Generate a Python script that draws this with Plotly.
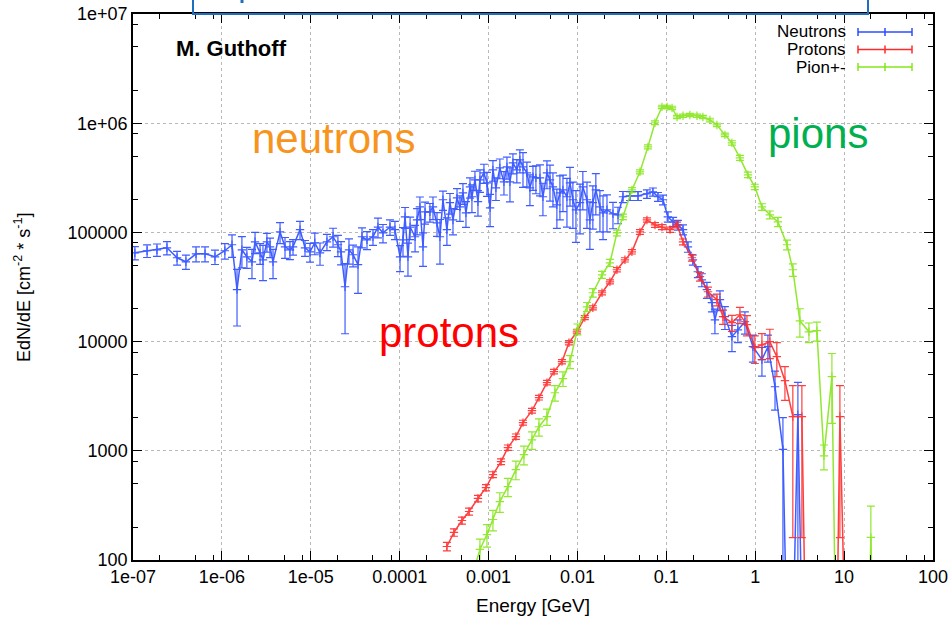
import plotly.graph_objects as go

# ---------------- data ----------------
neutron_energy = [
    1.05e-7, 1.44e-7, 1.86e-7, 2.41e-7, 3.13e-7, 3.94e-7, 5.12e-7, 6.46e-7, 8.36e-7, 1.08e-6,
    1.30e-6, 1.48e-6, 1.68e-6, 1.91e-6, 2.18e-6, 2.36e-6, 2.69e-6, 2.90e-6, 3.21e-6, 3.48e-6,
    3.76e-6, 4.51e-6, 5.13e-6, 5.83e-6, 6.31e-6, 7.57e-6, 8.61e-6, 9.79e-6, 1.11e-5, 1.27e-5,
    1.52e-5, 1.78e-5, 2.02e-5, 2.19e-5, 2.43e-5, 2.69e-5, 2.99e-5, 3.40e-5, 3.77e-5, 4.29e-5,
    5.01e-5, 5.70e-5, 6.49e-5, 7.78e-5, 8.85e-5, 1.01e-4, 1.09e-4, 1.15e-4, 1.24e-4, 1.31e-4,
    1.49e-4, 1.57e-4, 1.69e-4, 1.83e-4, 1.93e-4, 2.19e-4, 2.37e-4, 2.63e-4, 2.84e-4, 3.07e-4,
    3.40e-4, 3.68e-4, 3.98e-4, 4.42e-4, 4.76e-4, 5.15e-4, 5.57e-4, 6.18e-4, 6.50e-4, 7.03e-4,
    7.60e-4, 8.00e-4, 8.87e-4, 9.59e-4, 1.04e-3, 1.12e-3, 1.21e-3, 1.34e-3, 1.49e-3, 1.61e-3,
    1.74e-3, 1.88e-3, 2.08e-3, 2.25e-3, 2.44e-3, 2.70e-3, 2.92e-3, 3.16e-3, 3.41e-3, 3.79e-3,
    4.09e-3, 4.54e-3, 4.91e-3, 5.30e-3, 5.87e-3, 6.35e-3, 6.87e-3, 7.62e-3, 8.24e-3, 8.89e-3,
    9.62e-3, 1.07e-2, 1.15e-2, 1.28e-2, 1.38e-2, 1.49e-2, 1.61e-2, 1.79e-2, 1.94e-2, 2.15e-2,
    2.51e-2, 2.86e-2, 3.25e-2, 3.90e-2, 4.80e-2, 6.05e-2, 7.06e-2, 8.05e-2, 9.17e-2, 1.04e-1,
    1.19e-1, 1.35e-1, 1.54e-1, 1.75e-1, 1.99e-1, 2.26e-1, 2.51e-1, 2.86e-1, 3.26e-1, 3.52e-1,
    4.01e-1, 4.56e-1, 5.47e-1, 6.38e-1, 7.66e-1, 9.42e-1, 1.19, 1.39, 1.67, 2.05,
    2.45, 3.02, 3.62,
]
neutron_flux = [
    6.50e4, 6.79e4, 6.93e4, 7.23e4, 5.86e4, 5.38e4, 6.37e4, 6.37e4, 5.98e4, 6.79e4,
    7.71e4, 2.99e4, 6.93e4, 5.98e4, 5.38e4, 8.20e4, 6.50e4, 5.61e4, 8.20e4, 7.38e4,
    5.38e4, 1.01e5, 7.38e4, 6.93e4, 7.38e4, 1.06e5, 7.23e4, 6.64e4, 8.04e4, 6.50e4,
    8.20e4, 9.12e4, 7.71e4, 6.64e4, 3.18e4, 6.93e4, 6.24e4, 5.06e4, 9.12e4, 8.55e4,
    9.12e4, 1.12e5, 9.91e4, 1.12e5, 1.06e5, 5.98e4, 8.55e4, 1.39e5, 5.98e4, 1.12e5,
    9.12e4, 1.30e5, 1.71e5, 7.38e4, 1.54e5, 1.54e5, 1.71e5, 1.22e5, 9.12e4, 1.99e5,
    1.06e5, 1.87e5, 1.30e5, 2.07e5, 1.71e5, 2.30e5, 1.51e5, 2.61e5, 2.12e5, 3.03e5,
    1.91e5, 3.03e5, 3.51e5, 2.84e5, 1.68e5, 3.74e5, 2.56e5, 3.90e5, 2.90e5, 3.98e5,
    2.90e5, 4.34e5, 3.74e5, 4.61e5, 3.98e5, 3.51e5, 2.56e5, 3.23e5, 3.16e5, 3.16e5,
    2.12e5, 3.51e5, 3.03e5, 2.61e5, 1.79e5, 2.30e5, 2.45e5, 2.12e5, 2.84e5, 1.99e5,
    1.61e5, 1.87e5, 2.61e5, 1.99e5, 1.30e5, 1.87e5, 2.45e5, 1.71e5, 1.51e5, 1.61e5,
    1.48e5, 1.45e5, 2.12e5, 2.16e5, 2.16e5, 2.25e5, 2.35e5, 2.12e5, 1.99e5, 1.39e5,
    1.25e5, 1.17e5, 1.06e5, 7.38e4, 5.61e4, 4.36e4, 3.68e4, 2.99e4, 2.27e4, 1.58e4,
    2.42e4, 1.69e4, 1.11e4, 1.28e4, 1.52e4, 8.98e3, 6.83e3, 8.98e3, 3.86e3, 1.03e3,
    1.0, 2.14e3, 1.0,
]
neutron_err = [
    9.0e3, 9.0e3, 9.0e3, 1.0e4, 8.5e3, 8.0e3, 1.0e4, 1.0e4, 9.0e3, 1.1e4,
    1.8e4, 1.6e4, 2.2e4, 1.3e4, 1.6e4, 1.8e4, 1.4e4, 2.0e4, 1.6e4, 1.5e4,
    1.6e4, 2.2e4, 1.6e4, 1.3e4, 1.2e4, 2.0e4, 1.2e4, 1.3e4, 1.8e4, 1.5e4,
    1.4e4, 1.8e4, 1.7e4, 1.6e4, 2.0e4, 1.8e4, 1.4e4, 2.3e4, 1.9e4, 1.6e4,
    1.5e4, 2.3e4, 1.9e4, 1.8e4, 2.0e4, 1.6e4, 2.5e4, 3.0e4, 2.0e4, 2.6e4,
    2.5e4, 3.5e4, 4.0e4, 2.5e4, 3.5e4, 3.0e4, 4.0e4, 3.0e4, 4.0e4, 4.0e4,
    3.0e4, 4.0e4, 3.5e4, 4.5e4, 4.5e4, 5.0e4, 4.0e4, 5.5e4, 6.0e4, 6.0e4,
    5.0e4, 7.0e4, 7.0e4, 7.0e4, 5.5e4, 8.0e4, 6.0e4, 8.0e4, 7.0e4, 9.0e4,
    1.0e5, 9.0e4, 9.0e4, 1.1e5, 1.4e5, 9.0e4, 8.0e4, 8.0e4, 9.0e4, 1.0e5,
    7.0e4, 1.0e5, 1.1e5, 9.0e4, 7.0e4, 1.0e5, 9.0e4, 1.0e5, 1.1e5, 9.0e4,
    8.0e4, 9.0e4, 1.0e5, 9.0e4, 6.0e4, 8.0e4, 1.0e5, 7.0e4, 6.5e4, 6.0e4,
    4.0e4, 2.5e4, 2.5e4, 2.0e4, 2.0e4, 2.0e4, 2.0e4, 2.0e4, 2.0e4, 1.5e4,
    1.2e4, 1.2e4, 1.1e4, 8.0e3, 6.0e3, 5.0e3, 5.0e3, 5.0e3, 4.0e3, 4.0e3,
    5.0e3, 4.0e3, 3.0e3, 3.0e3, 3.5e3, 2.5e3, 2.0e3, 2.5e3, 1.5e3, 0.98e3,
    0.0, 2.1e3, 0.0,
]

proton_energy = [
    3.40e-4, 4.08e-4, 5.02e-4, 6.03e-4, 7.60e-4, 9.35e-4, 1.12e-3, 1.38e-3, 1.65e-3, 2.03e-3,
    2.44e-3, 3.08e-3, 3.69e-3, 4.54e-3, 5.45e-3, 6.70e-3, 8.02e-3, 9.86e-3, 1.21e-2, 1.49e-2,
    1.89e-2, 2.32e-2, 2.78e-2, 3.42e-2, 4.10e-2, 5.05e-2, 6.05e-2, 7.45e-2, 8.93e-2, 1.10e-1,
    1.32e-1, 1.54e-1, 1.94e-1, 2.39e-1, 2.94e-1, 3.71e-1, 4.34e-1, 5.47e-1, 6.73e-1, 8.07e-1,
    0.99, 1.19, 1.46, 1.75, 2.16, 2.65, 3.35, 3.92, 7.89, 8.97,
    11.2,
]
proton_flux = [
    133, 179, 230, 278, 366, 460, 605, 796, 1070, 1350,
    1810, 2330, 3070, 4210, 5310, 6550, 9770, 1.23e4, 1.66e4, 2.04e4,
    2.80e4, 3.53e4, 4.55e4, 5.61e4, 6.64e4, 1.01e5, 1.30e5, 1.17e5, 1.12e5, 1.06e5,
    1.17e5, 8.20e4, 5.86e4, 3.93e4, 2.86e4, 2.42e4, 1.69e4, 1.49e4, 1.76e4, 1.43e4,
    8.80e3, 9.35e3, 9.98e3, 7.28e3, 4.39e3, 2.06e3, 2.06e3, 1.0, 1.0, 2.06e3,
    1.0,
]
proton_err = [
    12, 14, 17, 20, 25, 30, 38, 48, 60, 75,
    95, 120, 150, 200, 250, 300, 420, 500, 700, 900,
    1200, 1500, 2000, 2500, 3000, 5000, 6000, 6000, 6000, 6000,
    7000, 5000, 4000, 3500, 3000, 3000, 2500, 2500, 3000, 3000,
    2500, 2500, 3000, 2500, 1500, 1.9e3, 1.9e3, 0, 0, 1.9e3,
    0,
]

pion_energy = [
    6.50e-4, 8.00e-4, 9.59e-4, 1.12e-3, 1.34e-3, 1.65e-3, 2.03e-3, 2.50e-3, 3.08e-3, 3.69e-3,
    4.54e-3, 5.58e-3, 6.87e-3, 8.24e-3, 1.00e-2, 1.28e-2, 1.49e-2, 1.89e-2, 2.32e-2, 2.78e-2,
    3.25e-2, 4.10e-2, 5.05e-2, 6.21e-2, 7.45e-2, 8.93e-2, 1.02e-1, 1.16e-1, 1.32e-1, 1.54e-1,
    1.84e-1, 2.21e-1, 2.58e-1, 3.09e-1, 3.71e-1, 4.56e-1, 5.47e-1, 6.73e-1, 8.28e-1, 0.99,
    1.19, 1.46, 1.80, 2.28, 2.65, 3.18, 4.02, 4.94, 5.93, 7.29,
    8.51, 17.6, 20.0, 23.4,
]
pion_flux = [
    70, 125, 171, 235, 343, 470, 673, 923, 1260, 1660,
    2060, 3400, 4580, 6550, 1.30e4, 2.08e4, 2.80e4, 4.09e4, 5.27e4, 9.91e4,
    1.39e5, 2.45e5, 3.59e5, 6.07e5, 1.01e6, 1.41e6, 1.41e6, 1.38e6, 1.14e6, 1.17e6,
    1.19e6, 1.17e6, 1.14e6, 1.07e6, 9.64e5, 7.82e5, 6.61e5, 4.82e5, 3.37e5, 2.61e5,
    1.71e5, 1.45e5, 1.25e5, 7.71e4, 4.55e4, 1.55e4, 1.23e4, 1.26e4, 900, 4.78e3,
    1.0, 1.0, 161, 1.0,
]
pion_err = [
    15, 30, 40, 50, 70, 90, 130, 180, 230, 300,
    350, 550, 700, 900, 1500, 2000, 2500, 3000, 4000, 6000,
    8000, 1.2e4, 1.5e4, 2.5e4, 4e4, 5e4, 5e4, 5e4, 4e4, 4e4,
    4e4, 4e4, 4e4, 4e4, 3.5e4, 3e4, 3e4, 2.5e4, 2e4, 1.5e4,
    1.2e4, 1.2e4, 1.2e4, 8e3, 6e3, 4.5e3, 2.5e3, 2.5e3, 230, 3.0e3,
    0, 0, 150, 0,
]

series = [
    ("Neutrons", neutron_energy, neutron_flux, neutron_err, "#2b4cff"),
    ("Protons", proton_energy, proton_flux, proton_err, "#ff2a2a"),
    ("Pion+-", pion_energy, pion_flux, pion_err, "#86e61a"),
]

x_tick_vals = [1e-7, 1e-6, 1e-5, 1e-4, 1e-3, 1e-2, 1e-1, 1, 10, 100]
x_tick_text = ["1e-07", "1e-06", "1e-05", "0.0001", "0.001", "0.01", "0.1", "1", "10", "100"]
y_tick_vals = [1e2, 1e3, 1e4, 1e5, 1e6, 1e7]
y_tick_text = ["100", "1000", "10000", "100000", "1e+06", "1e+07"]

# ---------------- figure ----------------
W, H = 952, 617
ML, MR, MT, MB = 133, 19, 14, 57
PW, PH = W - ML - MR, H - MT - MB
FONT = "Liberation Sans, Arial, sans-serif"


def px(x):
    return (x - ML) / PW


def py(y):
    return (H - MB - y) / PH


fig = go.Figure()
for name, xs, ys, es, col in series:
    fig.add_trace(go.Scatter(
        x=xs, y=ys, name=name, mode="lines+markers",
        line=dict(color=col, width=1.5),
        marker=dict(symbol="cross-thin", size=6, line=dict(color=col, width=1.2)),
        error_y=dict(type="data", array=es, visible=True, color=col, thickness=1.2, width=4),
        showlegend=False, opacity=0.9,
    ))

minor_vals = [m * 10.0 ** d for d in range(-7, 3) for m in (2, 5, 8)]
minor_y = [m * 10.0 ** d for d in range(2, 7) for m in (2, 5, 8)]

tick_font = dict(family=FONT, size=18, color="black")
common = dict(
    type="log", tickmode="array", ticks="inside", ticklen=9, tickwidth=1, tickcolor="black",
    showline=True, linecolor="black", linewidth=1.5, mirror="allticks",
    showgrid=True, gridcolor="#b8b8b8", griddash="dot", gridwidth=1,
    tickfont=tick_font, zeroline=False, automargin=False,
)
fig.update_xaxes(
    range=[-7, 2], tickvals=x_tick_vals, ticktext=x_tick_text,
    minor=dict(tickmode="array", tickvals=minor_vals, ticks="inside", ticklen=5,
               tickcolor="black", showgrid=False),
    **common,
)
fig.update_yaxes(
    range=[2, 7], tickvals=y_tick_vals, ticktext=y_tick_text,
    minor=dict(tickmode="array", tickvals=minor_y, ticks="inside", ticklen=5,
               tickcolor="black", showgrid=False),
    **common,
)

annotations = [
    dict(text="neutrons", x=px(333), y=py(138), font=dict(size=42, color="#f7941d")),
    dict(text="pions", x=px(818), y=py(133), font=dict(size=42, color="#00b050")),
    dict(text="protons", x=px(449), y=py(333), font=dict(size=42, color="#ff0000")),
    dict(text="<b>M. Guthoff</b>", x=px(174), y=py(48), xanchor="left",
         font=dict(size=22, color="black")),
    dict(text="Energy [GeV]", x=px(533), y=py(605), font=dict(size=19, color="black")),
    dict(text="EdN/dE [cm<sup>-2</sup> * s<sup>-1</sup>]", x=px(22), y=py(287),
         textangle=-90, font=dict(size=18, color="black")),
]
for a in annotations:
    a.update(xref="paper", yref="paper", showarrow=False)
    a.setdefault("xanchor", "center")
    a["yanchor"] = "middle"
    a["font"]["family"] = FONT

# key in the upper right: label on the left, error-bar sample on the right
shapes = []
key_rows = [32, 49.5, 67]
for (name, _, _, _, col), ky in zip(series, key_rows):
    annotations.append(dict(text=name, x=px(847), y=py(ky), xref="paper", yref="paper",
                            xanchor="right", yanchor="middle", showarrow=False,
                            height=17, valign="middle", borderpad=0,
                            font=dict(family=FONT, size=17, color="black")))
    shapes.append(dict(type="line", xref="paper", yref="paper", x0=px(858), x1=px(912),
                       y0=py(ky), y1=py(ky), line=dict(color=col, width=1.5)))
    for kx in (858, 885, 912):
        shapes.append(dict(type="line", xref="paper", yref="paper", x0=px(kx), x1=px(kx),
                           y0=py(ky - 4), y1=py(ky + 4), line=dict(color=col, width=1.5)))

# framed heading box across the top edge
shapes.append(dict(type="rect", xref="paper", yref="paper", x0=px(193), x1=px(868),
                   y0=py(14), y1=py(-10), line=dict(color="#1f6fc0", width=2)))
shapes.append(dict(type="line", xref="paper", yref="paper", x0=px(242), x1=px(242),
                   y0=py(0), y1=py(3), line=dict(color="#1f6fc0", width=3)))

fig.update_layout(
    width=W, height=H, margin=dict(l=ML, r=MR, t=MT, b=MB),
    paper_bgcolor="white", plot_bgcolor="white",
    annotations=annotations, shapes=shapes,
    font=dict(family=FONT),
)

fig.write_html("out.html")
